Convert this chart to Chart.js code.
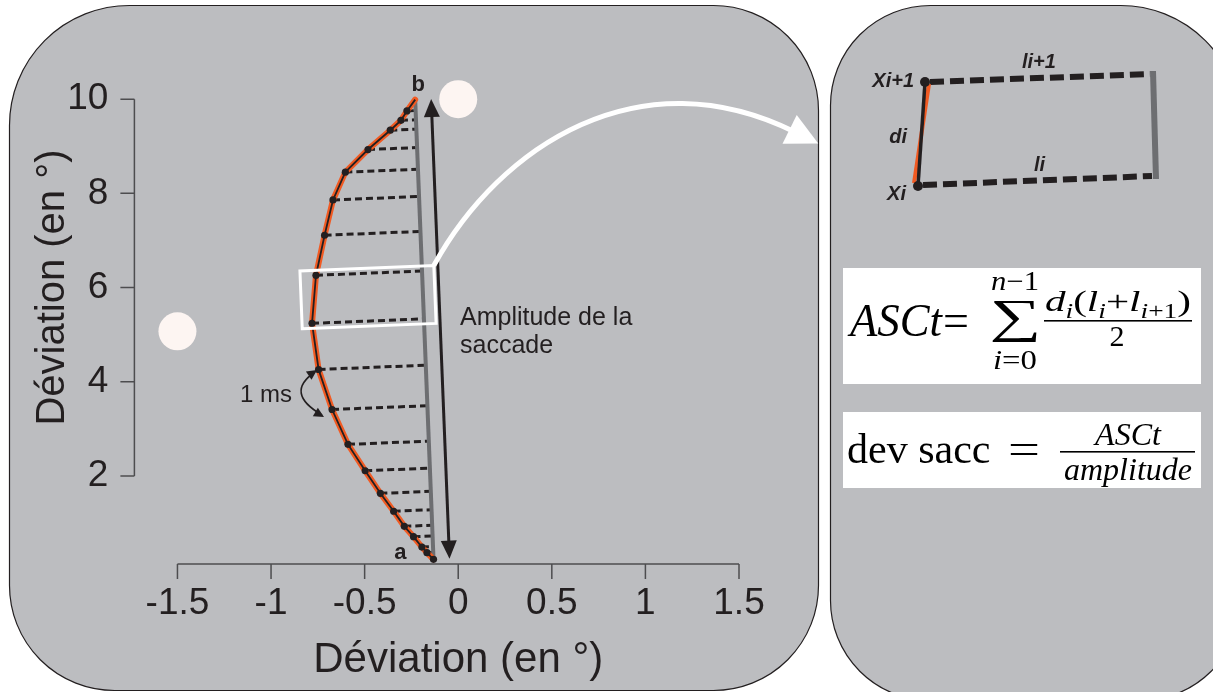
<!DOCTYPE html>
<html lang="fr">
<head>
  <meta charset="UTF-8" />
  <title>Déviation de la saccade</title>
  <script src="https://cdn.jsdelivr.net/npm/chart.js"></script>
  <style>
    html, body { margin: 0; padding: 0; background: #fff; }
    #wrap { position: relative; width: 1213px; height: 692px; }
  </style>
</head>
<body>
  <div id="wrap"><canvas id="chart" width="1213" height="692"></canvas></div>

  <script>
    // saccade trajectory, one sample per ms, from a (start) to b (end)
    const trajX = [-0.132, -0.167, -0.194, -0.239, -0.288, -0.345, -0.416, -0.497, -0.589, -0.674, -0.746,
                   -0.781, -0.760, -0.714, -0.669, -0.603, -0.482, -0.363, -0.306, -0.274, -0.230];
    const trajY = [0.23, 0.37, 0.49, 0.71, 0.93, 1.25, 1.63, 2.11, 2.67, 3.41, 4.26,
                   5.24, 6.26, 7.11, 7.86, 8.45, 8.93, 9.34, 9.55, 9.75, 9.99];

    // fixation / target discs
    const targetX = [0, -1.5];
    const targetY = [10, 5.07];

    const xTicks = [-1.5, -1, -0.5, 0, 0.5, 1, 1.5];
    const yTicks = [2, 4, 6, 8, 10];

    // samples framed by the white box (zoomed on the right)
    const boxedIdx = [11, 12];

    const ink = '#231f20';
    const panelGray = '#bcbdc0';
    const orange = '#f15a22';
    const lineGray = '#6d6e71';
    const sans = "'Liberation Sans', Arial, sans-serif";
    const serif = "'Liberation Serif', 'DejaVu Serif', serif";

    const traj = trajX.map((x, i) => ({ x: x, y: trajY[i] }));
    const targets = targetX.map((x, i) => ({ x: x, y: targetY[i] }));
    const last = traj.length - 1;

    function arrowHead(ctx, tx, ty, dx, dy, len, half) {
      const m = Math.hypot(dx, dy); dx /= m; dy /= m;
      const bx = tx - dx * len, by = ty - dy * len;
      ctx.beginPath();
      ctx.moveTo(tx, ty);
      ctx.lineTo(bx - dy * half, by + dx * half);
      ctx.lineTo(bx + dy * half, by - dx * half);
      ctx.closePath();
      ctx.fill();
    }

    // draw a glyph stretched into a given ink box
    function fitGlyph(ctx, txt, font, x0, y0, x1, y1) {
      ctx.save();
      ctx.font = font; ctx.textAlign = 'left'; ctx.textBaseline = 'alphabetic';
      const m = ctx.measureText(txt);
      const gw = m.actualBoundingBoxLeft + m.actualBoundingBoxRight;
      const gh = m.actualBoundingBoxAscent + m.actualBoundingBoxDescent;
      ctx.translate(x0, y0);
      ctx.scale((x1 - x0) / gw, (y1 - y0) / gh);
      ctx.fillText(txt, m.actualBoundingBoxLeft, m.actualBoundingBoxAscent);
      ctx.restore();
    }

    // math runs: kind 'i' italic, 'n' upright, 'si'/'sn' subscript
    function runs(ctx, parts, x, y, size, subSize, draw) {
      let cx = x;
      for (const [txt, kind] of parts) {
        const sub = kind[0] === 's';
        const ital = kind.endsWith('i');
        ctx.font = (ital ? 'italic ' : '') + (sub ? subSize : size) + 'px ' + serif;
        if (draw) ctx.fillText(txt, cx, y + (sub ? size * 0.22 : 0));
        cx += ctx.measureText(txt).width;
      }
      return cx - x;
    }
    function runsCentered(ctx, parts, cx, y, size, subSize, width) {
      const w = runs(ctx, parts, 0, y, size, subSize, false);
      ctx.save();
      ctx.textAlign = 'left';
      if (width) {
        ctx.translate(cx - width / 2, 0);
        ctx.scale(width / w, 1);
        runs(ctx, parts, 0, y, size, subSize, true);
      } else {
        runs(ctx, parts, cx - w / 2, y, size, subSize, true);
      }
      ctx.restore();
    }

    // panels behind everything
    const backdrop = {
      id: 'backdrop',
      beforeDraw(chart) {
        const ctx = chart.ctx;
        ctx.save();
        ctx.fillStyle = '#fff';
        ctx.fillRect(0, 0, chart.width, chart.height);
        ctx.fillStyle = panelGray;
        ctx.strokeStyle = ink;
        ctx.lineWidth = 1.2;
        ctx.beginPath();
        ctx.roundRect(9.5, 5.5, 809, 685, [120, 105, 105, 105]);
        ctx.fill(); ctx.stroke();
        ctx.beginPath();
        ctx.roundRect(830.5, 5.5, 410, 695, [100, 120, 100, 100]);
        ctx.fill(); ctx.stroke();
        ctx.restore();
      }
    };

    // detached axes, titles, projections and annotations
    const overlay = {
      id: 'overlay',
      beforeDatasetsDraw(chart) {
        const { ctx, chartArea } = chart;
        const { x, y } = chart.scales;
        ctx.save();

        // axes
        ctx.strokeStyle = '#4d4d4f';
        ctx.lineWidth = 1.5;
        const ax = chartArea.bottom, ay = chartArea.left;
        const xa = x.getPixelForValue(xTicks[0]), xb = x.getPixelForValue(xTicks[xTicks.length - 1]);
        const ya = y.getPixelForValue(yTicks[0]), yb = y.getPixelForValue(yTicks[yTicks.length - 1]);
        ctx.beginPath();
        ctx.moveTo(xa, ax); ctx.lineTo(xb, ax);
        xTicks.forEach(v => { const p = x.getPixelForValue(v); ctx.moveTo(p, ax); ctx.lineTo(p, ax + 15); });
        ctx.moveTo(ay, ya); ctx.lineTo(ay, yb);
        yTicks.forEach(v => { const p = y.getPixelForValue(v); ctx.moveTo(ay, p); ctx.lineTo(ay - 14, p); });
        ctx.stroke();

        // axis titles, centred on the drawn axis lines
        ctx.fillStyle = ink;
        ctx.textAlign = 'center';
        ctx.textBaseline = 'alphabetic';
        ctx.font = '42px ' + sans;
        ctx.fillText('Déviation (en °)', (xa + xb) / 2, 672);
        ctx.save();
        ctx.translate(64, (ya + yb) / 2);
        ctx.rotate(-Math.PI / 2);
        ctx.font = '40px ' + sans;
        ctx.fillText('Déviation (en °)', 0, 0);
        ctx.restore();

        // projections of each sample onto the straight a-b line
        const P = traj.map(p => ({ x: x.getPixelForValue(p.x), y: y.getPixelForValue(p.y) }));
        const A = P[0], B = P[last];
        const L = Math.hypot(B.x - A.x, B.y - A.y);
        const u = { x: (B.x - A.x) / L, y: (B.y - A.y) / L };
        ctx.strokeStyle = ink;
        ctx.lineWidth = 3;
        ctx.setLineDash([7, 4]);
        for (let i = 1; i < last; i++) {
          const s = (P[i].x - A.x) * u.x + (P[i].y - A.y) * u.y;
          ctx.beginPath();
          ctx.moveTo(P[i].x, P[i].y);
          ctx.lineTo(A.x + s * u.x, A.y + s * u.y);
          ctx.stroke();
        }
        ctx.restore();
      },
      afterDatasetsDraw(chart) {
        const { ctx } = chart;
        const { x, y } = chart.scales;
        const P = traj.map(p => ({ x: x.getPixelForValue(p.x), y: y.getPixelForValue(p.y) }));
        const A = P[0], B = P[last];
        const L = Math.hypot(B.x - A.x, B.y - A.y);
        const u = { x: (B.x - A.x) / L, y: (B.y - A.y) / L };
        const v = { x: -u.y, y: u.x };
        if (v.x < 0) { v.x = -v.x; v.y = -v.y; }
        ctx.save();

        // amplitude arrow, parallel to a-b
        const off = 16;
        const S = { x: A.x + off * v.x, y: A.y + off * v.y };
        const E = { x: B.x + off * v.x, y: B.y + off * v.y };
        ctx.strokeStyle = ink; ctx.fillStyle = ink; ctx.lineWidth = 3;
        ctx.beginPath();
        ctx.moveTo(S.x + u.x * 14, S.y + u.y * 14);
        ctx.lineTo(E.x - u.x * 14, E.y - u.y * 14);
        ctx.stroke();
        arrowHead(ctx, E.x, E.y, u.x, u.y, 18, 8);
        arrowHead(ctx, S.x, S.y, -u.x, -u.y, 18, 8);

        // white box around two samples, in the a-b frame
        const st = [];
        boxedIdx.forEach(i => {
          const s = (P[i].x - A.x) * u.x + (P[i].y - A.y) * u.y;
          const t = (P[i].x - A.x) * v.x + (P[i].y - A.y) * v.y;
          st.push([s, t]);
        });
        const s0 = Math.min(...st.map(d => d[0])) - 5, s1 = Math.max(...st.map(d => d[0])) + 5;
        const t0 = Math.min(...st.map(d => d[1])) - 10, t1 = 12;
        const corner = (s, t) => ({ x: A.x + s * u.x + t * v.x, y: A.y + s * u.y + t * v.y });
        const c = [corner(s0, t0), corner(s0, t1), corner(s1, t1), corner(s1, t0)];
        ctx.strokeStyle = '#fff'; ctx.lineWidth = 3;
        ctx.beginPath();
        ctx.moveTo(c[0].x, c[0].y);
        c.slice(1).forEach(p => ctx.lineTo(p.x, p.y));
        ctx.closePath();
        ctx.stroke();

        // white curved arrow towards the right panel
        const start = c[2];
        const c1 = { x: 500, y: 145 }, c2 = { x: 640, y: 55 }, end = { x: 795, y: 132 };
        ctx.lineWidth = 5;
        ctx.beginPath();
        ctx.moveTo(start.x, start.y);
        ctx.bezierCurveTo(c1.x, c1.y, c2.x, c2.y, end.x, end.y);
        ctx.stroke();
        ctx.fillStyle = '#fff';
        const dx = end.x - c2.x, dy = end.y - c2.y, dm = Math.hypot(dx, dy);
        arrowHead(ctx, end.x + dx / dm * 26, end.y + dy / dm * 26, dx, dy, 32, 16);

        // 1 ms curved arrow
        ctx.strokeStyle = ink; ctx.fillStyle = ink; ctx.lineWidth = 1.6;
        const m0 = { x: 315, y: 372 }, mc = { x: 284, y: 393 }, m1 = { x: 322, y: 415 };
        ctx.beginPath();
        ctx.moveTo(m0.x, m0.y);
        ctx.quadraticCurveTo(mc.x, mc.y, m1.x, m1.y);
        ctx.stroke();
        arrowHead(ctx, m0.x + 2, m0.y - 2, m0.x - mc.x, m0.y - mc.y, 10, 5);
        arrowHead(ctx, m1.x + 2, m1.y + 2, m1.x - mc.x, m1.y - mc.y, 10, 5);

        // texts
        ctx.textBaseline = 'alphabetic';
        ctx.font = 'bold 22px ' + sans;
        ctx.textAlign = 'right';
        ctx.fillText('a', A.x - 27, A.y);
        ctx.textAlign = 'center';
        ctx.fillText('b', B.x + 3, B.y - 9);
        ctx.textAlign = 'left';
        ctx.font = '25px ' + sans;
        ctx.fillText('Amplitude de la', 460, 325);
        ctx.fillText('saccade', 460, 353);
        ctx.font = '24px ' + sans;
        ctx.fillText('1 ms', 240, 402);
        ctx.restore();
      },
      afterDraw(chart) {
        const ctx = chart.ctx;
        ctx.save();

        // schematic of one segment
        ctx.strokeStyle = lineGray; ctx.lineWidth = 6;
        ctx.beginPath(); ctx.moveTo(1153, 71); ctx.lineTo(1156, 179); ctx.stroke();
        ctx.strokeStyle = ink; ctx.lineWidth = 6; ctx.setLineDash([14, 6]);
        ctx.beginPath(); ctx.moveTo(930, 82); ctx.lineTo(1150, 74); ctx.stroke();
        ctx.beginPath(); ctx.moveTo(923, 185); ctx.lineTo(1152, 176); ctx.stroke();
        ctx.setLineDash([]);
        ctx.strokeStyle = orange; ctx.lineWidth = 4;
        ctx.beginPath(); ctx.moveTo(929, 84); ctx.lineTo(914, 183); ctx.stroke();
        ctx.strokeStyle = ink; ctx.lineWidth = 3.5;
        ctx.beginPath(); ctx.moveTo(925, 82); ctx.lineTo(918, 186); ctx.stroke();
        ctx.fillStyle = ink;
        ctx.beginPath(); ctx.arc(925, 82, 5, 0, Math.PI * 2); ctx.fill();
        ctx.beginPath(); ctx.arc(918, 186, 5, 0, Math.PI * 2); ctx.fill();
        ctx.font = 'italic bold 20px ' + sans;
        ctx.textAlign = 'right';
        ctx.fillText('Xi+1', 914, 87);
        ctx.fillText('di', 907, 143);
        ctx.fillText('Xi', 906, 200);
        ctx.textAlign = 'left';
        ctx.fillText('li+1', 1022, 68);
        ctx.fillText('li', 1034, 171);

        // formula boxes
        ctx.fillStyle = '#fff';
        ctx.fillRect(843, 268, 358, 116);
        ctx.fillRect(843, 412, 358, 76);
        ctx.fillStyle = '#000';
        ctx.textBaseline = 'alphabetic';
        ctx.textAlign = 'left';
        ctx.font = 'italic 46px ' + serif;
        ctx.fillText('ASCt', 850, 336, 92);
        ctx.font = '46px ' + serif;
        ctx.fillText('=', 943, 336, 30);
        fitGlyph(ctx, '\u2211', '60px ' + serif, 992, 300, 1037, 342);
        runsCentered(ctx, [['n', 'i'], ['\u22121', 'n']], 1015, 290, 27, 18, 48);
        runsCentered(ctx, [['i', 'i'], ['=0', 'n']], 1015, 369, 27, 18, 44);
        runsCentered(ctx, [['d', 'i'], ['i', 'si'], ['(', 'n'], ['l', 'i'], ['i', 'si'], ['+', 'n'],
                           ['l', 'i'], ['i', 'si'], ['+1', 'sn'], [')', 'n']], 1118, 311, 30, 20, 146);
        ctx.fillRect(1044, 320, 148, 1.6);
        runsCentered(ctx, [['2', 'n']], 1117, 346, 30, 20);

        ctx.font = '42px ' + serif;
        ctx.fillText('dev sacc', 847, 463, 152);
        ctx.save();
        ctx.translate(1008, 463);
        ctx.scale(1.35, 1);
        ctx.fillText('=', 0, 0);
        ctx.restore();
        ctx.textAlign = 'center';
        ctx.font = 'italic 32px ' + serif;
        ctx.fillText('ASCt', 1128, 445, 76);
        ctx.fillRect(1060, 451, 135, 1.6);
        ctx.fillText('amplitude', 1128, 480, 136);
        ctx.restore();
      }
    };

    new Chart(document.getElementById('chart'), {
      type: 'scatter',
      data: {
        datasets: [
          {
            label: 'échantillons',
            data: traj,
            showLine: true,
            borderColor: ink,
            borderWidth: 1.8,
            pointRadius: traj.map((p, i) => i === last ? 0 : 3.6),
            pointBackgroundColor: ink,
            pointBorderWidth: 0,
            clip: false
          },
          {
            label: 'trajectoire',
            data: traj,
            showLine: true,
            borderColor: orange,
            borderWidth: 6,
            borderCapStyle: 'round',
            pointRadius: 0,
            clip: false
          },
          {
            label: 'a-b',
            data: [traj[0], traj[last]],
            showLine: true,
            borderColor: lineGray,
            borderWidth: 4,
            pointRadius: 0,
            clip: false
          },
          {
            label: 'cibles',
            data: targets,
            pointRadius: 19,
            backgroundColor: '#fdf5f2',
            borderWidth: 0,
            clip: false
          }
        ]
      },
      options: {
        responsive: false,
        animation: false,
        layout: { padding: { left: 20, right: 474, top: 85, bottom: 0 } },
        plugins: { legend: { display: false }, tooltip: { enabled: false } },
        scales: {
          x: {
            type: 'linear', min: -1.73, max: 1.5,
            grid: { display: false, drawTicks: false },
            border: { display: false },
            afterBuildTicks: s => { s.ticks = xTicks.map(v => ({ value: v })); },
            afterFit: s => { s.height = 128; },
            ticks: {
              padding: 18, color: ink, autoSkip: false, maxRotation: 0,
              font: { family: sans, size: 37 },
              callback: v => String(v)
            }
          },
          y: {
            type: 'linear', min: 0.13, max: 10.3,
            grid: { display: false, drawTicks: false },
            border: { display: false },
            afterBuildTicks: s => { s.ticks = yTicks.map(v => ({ value: v })); },
            afterFit: s => { s.width = 114.4; },
            ticks: {
              padding: 26, color: ink, autoSkip: false,
              font: { family: sans, size: 37 },
              callback: v => String(v)
            }
          }
        }
      },
      plugins: [backdrop, overlay]
    });
  </script>
</body>
</html>
